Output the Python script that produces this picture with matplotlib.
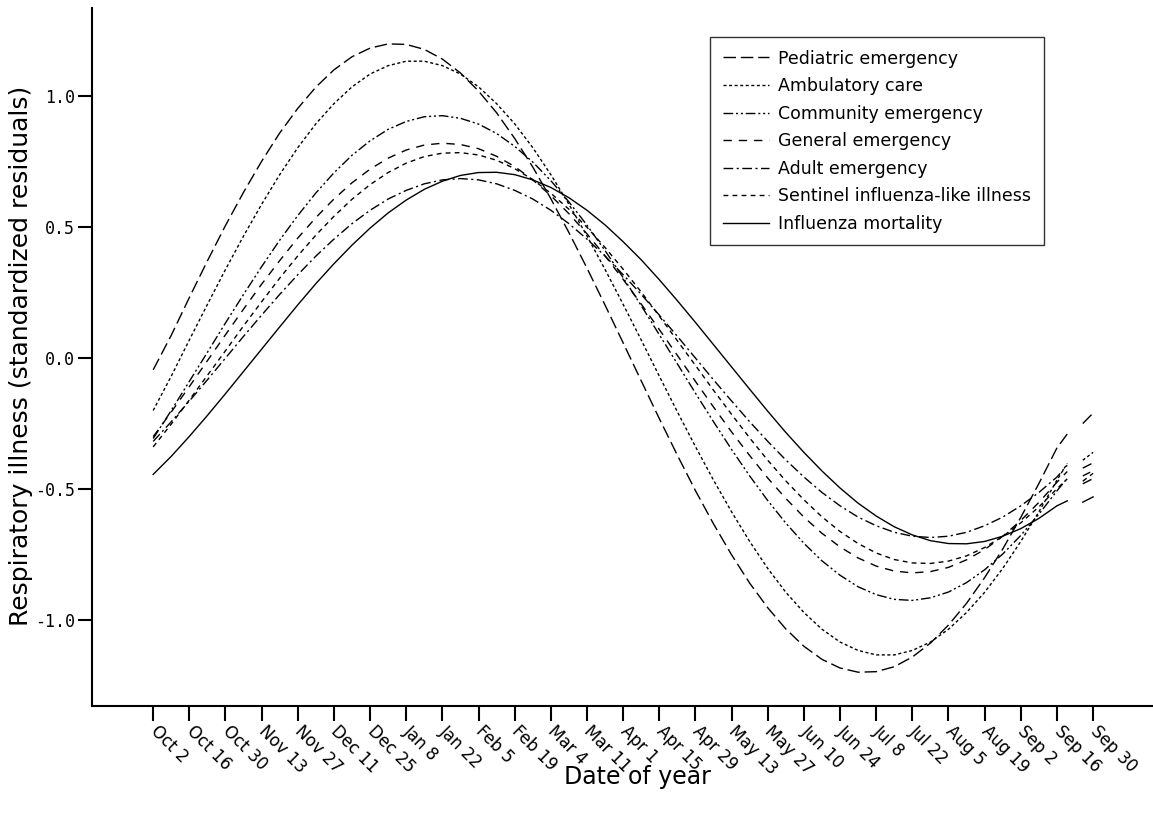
import numpy as np
from matplotlib import pyplot as plt

# days since Oct 2: weekly values, last point ~Sep 20
days = list(range(0, 351, 7)) + [354]
tail_days = [360, 364]

tick_days = list(range(0, 365, 14))
tick_labels = ['Oct 2', 'Oct 16', 'Oct 30', 'Nov 13', 'Nov 27', 'Dec 11', 'Dec 25',
               'Jan 8', 'Jan 22', 'Feb 5', 'Feb 19', 'Mar 4', 'Mar 11', 'Apr 1',
               'Apr 15', 'Apr 29', 'May 13', 'May 27', 'Jun 10', 'Jun 24', 'Jul 8',
               'Jul 22', 'Aug 5', 'Aug 19', 'Sep 2', 'Sep 16', 'Sep 30']

pediatric = [-0.045, 0.087, 0.231, 0.371, 0.506, 0.633, 0.751, 0.859, 0.953, 1.034, 1.100, 1.150, 1.183,
             1.199, 1.197, 1.178, 1.141, 1.088, 1.019, 0.936, 0.838, 0.729, 0.608, 0.479, 0.343, 0.202,
             0.058, -0.087, -0.231, -0.371, -0.506, -0.633, -0.751, -0.859, -0.953, -1.034, -1.100, -1.150, -1.183,
             -1.199, -1.197, -1.178, -1.141, -1.088, -1.019, -0.936, -0.838, -0.729, -0.608, -0.479, -0.343, -0.290]
ambulatory = [-0.200, -0.069, 0.069, 0.205, 0.338, 0.466, 0.587, 0.700, 0.803, 0.894, 0.971, 1.035, 1.084,
              1.116, 1.133, 1.133, 1.116, 1.084, 1.035, 0.971, 0.894, 0.803, 0.700, 0.587, 0.466, 0.338,
              0.205, 0.069, -0.069, -0.205, -0.338, -0.466, -0.587, -0.700, -0.803, -0.894, -0.971, -1.035, -1.084,
              -1.116, -1.133, -1.133, -1.116, -1.084, -1.035, -0.971, -0.894, -0.803, -0.700, -0.587, -0.466, -0.402]
community = [-0.307, -0.200, -0.089, 0.022, 0.134, 0.243, 0.349, 0.450, 0.544, 0.630, 0.707, 0.774, 0.829,
             0.873, 0.903, 0.921, 0.925, 0.915, 0.893, 0.857, 0.808, 0.748, 0.677, 0.596, 0.507, 0.410,
             0.307, 0.200, 0.089, -0.022, -0.134, -0.243, -0.349, -0.450, -0.544, -0.630, -0.707, -0.774, -0.829,
             -0.873, -0.903, -0.921, -0.925, -0.915, -0.893, -0.857, -0.808, -0.748, -0.677, -0.596, -0.507, -0.459]
general = [-0.300, -0.206, -0.109, -0.010, 0.089, 0.187, 0.282, 0.372, 0.458, 0.536, 0.607, 0.669, 0.721,
           0.763, 0.794, 0.813, 0.820, 0.815, 0.799, 0.770, 0.731, 0.680, 0.620, 0.551, 0.474, 0.390,
           0.300, 0.206, 0.109, 0.010, -0.089, -0.187, -0.282, -0.372, -0.458, -0.536, -0.607, -0.669, -0.721,
           -0.763, -0.794, -0.813, -0.820, -0.815, -0.799, -0.770, -0.731, -0.680, -0.620, -0.551, -0.474, -0.433]
adult = [-0.318, -0.243, -0.164, -0.083, 0.000, 0.083, 0.164, 0.243, 0.318, 0.389, 0.454, 0.513, 0.564,
         0.607, 0.640, 0.665, 0.680, 0.685, 0.680, 0.665, 0.640, 0.607, 0.564, 0.513, 0.454, 0.389,
         0.318, 0.243, 0.164, 0.083, 0.000, -0.083, -0.164, -0.243, -0.318, -0.389, -0.454, -0.513, -0.564,
         -0.607, -0.640, -0.665, -0.680, -0.685, -0.680, -0.665, -0.640, -0.607, -0.564, -0.513, -0.454, -0.409]
sentinel = [-0.339, -0.252, -0.160, -0.066, 0.028, 0.123, 0.215, 0.305, 0.390, 0.469, 0.541, 0.606, 0.662,
            0.708, 0.744, 0.769, 0.782, 0.784, 0.775, 0.755, 0.723, 0.681, 0.629, 0.568, 0.499, 0.422,
            0.339, 0.252, 0.160, 0.066, -0.028, -0.123, -0.215, -0.305, -0.390, -0.469, -0.541, -0.606, -0.662,
            -0.708, -0.744, -0.769, -0.782, -0.784, -0.775, -0.755, -0.723, -0.681, -0.629, -0.568, -0.499, -0.461]
mortality = [-0.444, -0.375, -0.299, -0.219, -0.136, -0.051, 0.034, 0.119, 0.203, 0.284, 0.360, 0.431, 0.496,
             0.554, 0.603, 0.644, 0.675, 0.697, 0.708, 0.709, 0.700, 0.680, 0.651, 0.612, 0.564, 0.508,
             0.444, 0.375, 0.299, 0.219, 0.136, 0.051, -0.034, -0.119, -0.203, -0.284, -0.360, -0.431, -0.496,
             -0.554, -0.603, -0.644, -0.675, -0.697, -0.708, -0.709, -0.700, -0.680, -0.651, -0.612, -0.564, -0.545]

# short pieces drawn at the very end of the year
pediatric_tail = [-0.25, -0.21]
ambulatory_tail = [-0.39, -0.36]
community_tail = [-0.42, -0.40]
general_tail = [-0.45, -0.43]
adult_tail = [-0.48, -0.46]
sentinel_tail = [-0.47, -0.44]
mortality_tail = [-0.55, -0.53]

names = ['Pediatric emergency', 'Ambulatory care', 'Community emergency', 'General emergency',
         'Adult emergency', 'Sentinel influenza-like illness', 'Influenza mortality']


if __name__ == '__main__':
    plt.rcParams['font.family'] = 'DejaVu Sans'

    fig = plt.figure(figsize=(11.53, 8.19), dpi=100)
    ax = fig.add_axes([92 / 1153, 1 - 706 / 819, 1 - 92 / 1153, 698 / 819])

    series = [pediatric, ambulatory, community, general, adult, sentinel, mortality]
    tails = [pediatric_tail, ambulatory_tail, community_tail, general_tail,
             adult_tail, sentinel_tail, mortality_tail]
    styles = [
        (0, (9, 3.5)),                   # long dash
        (0, (2.2, 1.8)),                 # fine dash
        (0, (7, 2, 1.5, 2, 1.5, 2)),     # dash dot dot
        (0, (6, 5)),                     # dash, wide gap
        (0, (7, 2.5, 1.5, 2.5)),         # dash dot
        (0, (3.5, 3)),                   # medium dash
        '-',
    ]

    for vals, tail, ls, name in zip(series, tails, styles, names):
        ax.plot(days, vals, color='black', lw=1.0, ls=ls, label=name)
        ax.plot(tail_days, tail, color='black', lw=1.0, ls=ls)

    ax.set_xlim(-23.7, 387.2)
    ax.set_ylim(-1.328, 1.336)

    ax.spines['top'].set_visible(False)
    ax.spines['right'].set_visible(False)
    ax.spines['left'].set_linewidth(1.5)
    ax.spines['bottom'].set_linewidth(1.5)

    ax.set_xticks(tick_days)
    ax.set_xticklabels(tick_labels, rotation=-45, ha='left', va='center',
                       rotation_mode='anchor', fontsize=12)
    ax.tick_params(axis='x', length=11, width=1.5, pad=5)

    ax.set_yticks([-1.0, -0.5, 0.0, 0.5, 1.0])
    ax.set_yticklabels(['-1.0', '-0.5', '0.0', '0.5', '1.0'], family='DejaVu Sans Mono', fontsize=12)
    ax.tick_params(axis='y', length=10, width=1.5, pad=2)

    ax.set_xlabel('Date of year', fontsize=17)
    ax.xaxis.set_label_coords(0.514, -0.0845)
    ax.set_ylabel('Respiratory illness (standardized residuals)', fontsize=18)
    ax.yaxis.set_label_coords(-0.056, 0.501)

    leg = ax.legend(loc='upper left', bbox_to_anchor=(710 / 1153, 1 - 37 / 819),
                    bbox_transform=fig.transFigure, fontsize=12.5, frameon=True,
                    fancybox=False, edgecolor='black', handlelength=2.7,
                    handletextpad=0.5, labelspacing=0.55, borderpad=0.72, borderaxespad=0)
    leg.get_frame().set_linewidth(1.0)

    fig.savefig('out.png', dpi=100)
    plt.close(fig)
